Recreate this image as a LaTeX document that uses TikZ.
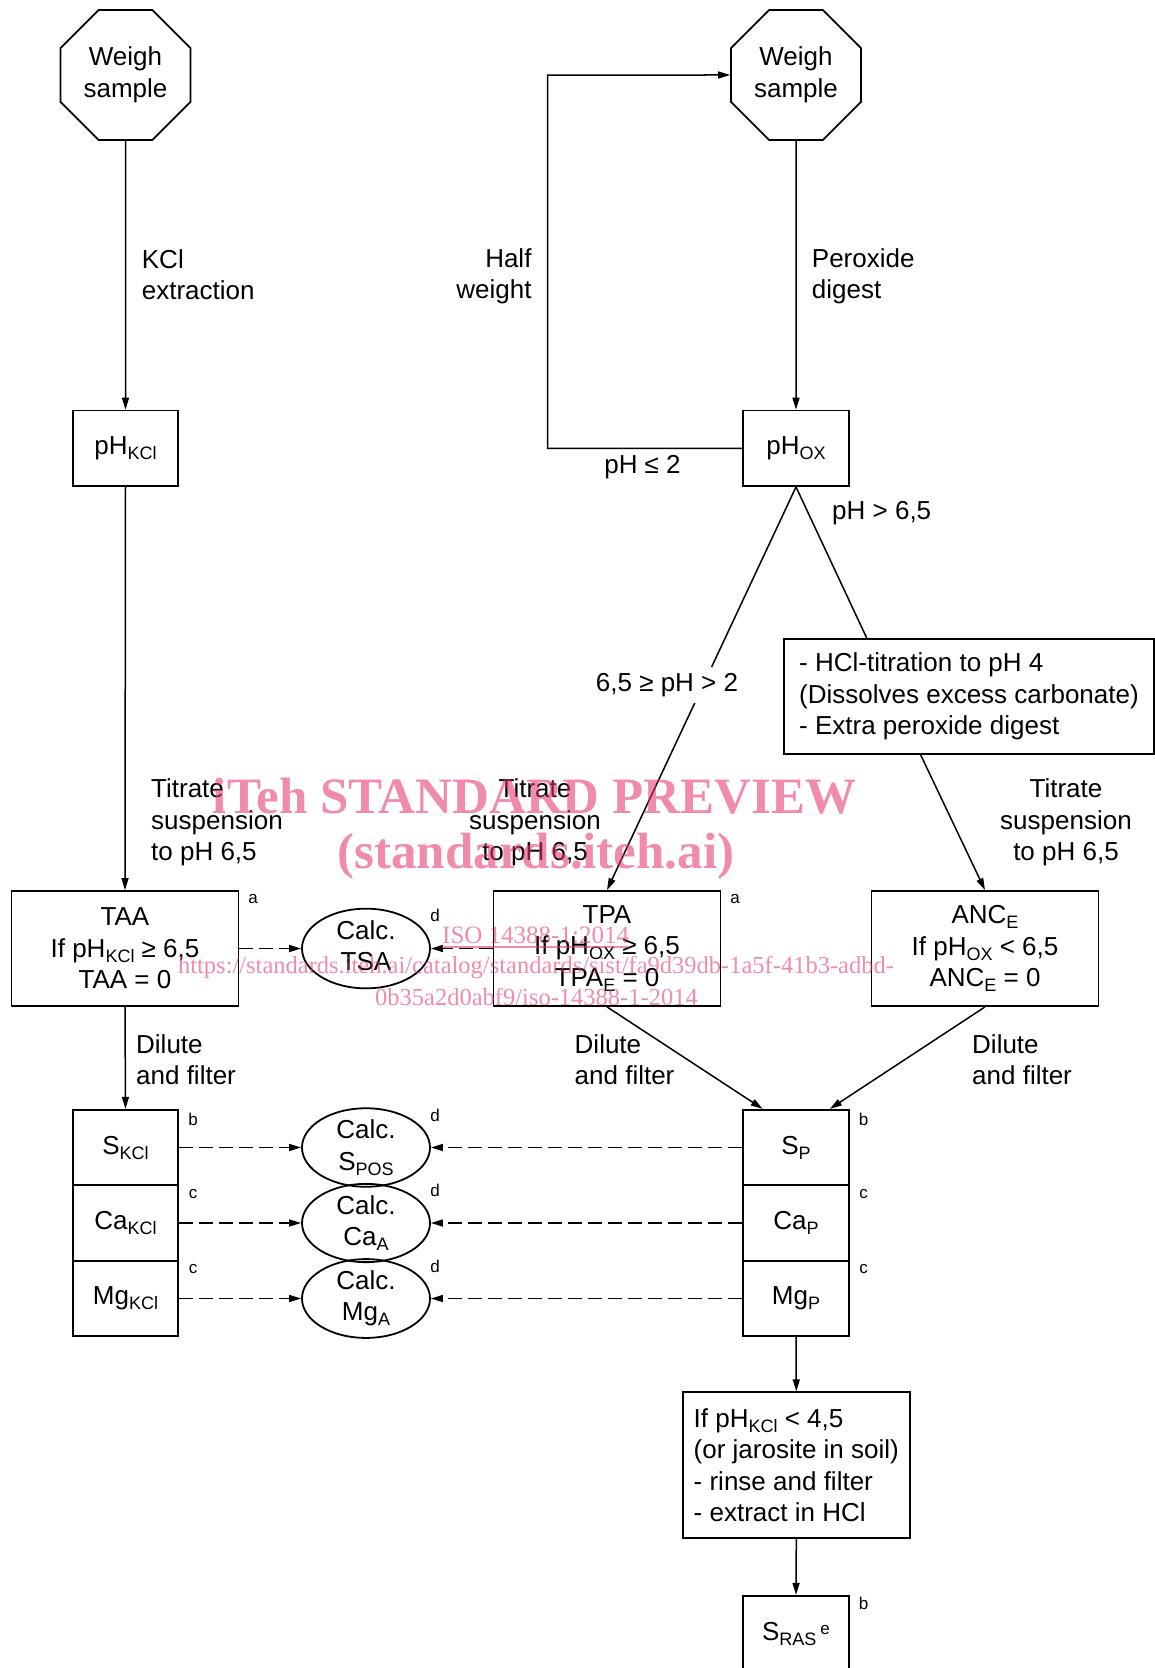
\documentclass[tikz,border=0pt]{standalone}
\usepackage{fontspec}
\setmainfont{Liberation Sans}
\newfontfamily\wmfont{Liberation Serif}
\usetikzlibrary{shapes.geometric,arrows.meta,calc}
\newcommand\sbs[1]{\raisebox{-5pt}{\fontsize{18}{18}\selectfont #1}}
\newcommand\mainfs{\fontsize{26}{31.5}\selectfont}
\newcommand\smallfs{\fontsize{17}{17}\selectfont}
\definecolor{wm}{RGB}{228,53,105}
\begin{document}
\begin{tikzpicture}[x=1pt,y=-1pt, font=\mainfs,
  box/.style={draw, line width=1.8pt, inner sep=0pt, align=center},
  sbox/.style={box, minimum width=105.7pt, minimum height=75.5pt},
  wbox/.style={box, minimum width=227pt, minimum height=115pt},
  oct/.style={draw, line width=1.8pt, regular polygon, regular polygon sides=8, minimum size=140.7pt, inner sep=0pt, align=center},
  ell/.style={draw, line width=1.8pt, ellipse, minimum width=128pt, minimum height=71pt, inner sep=0pt, align=center},
  conn/.style={line width=1.5pt, -{Triangle[length=12pt,width=7pt]}},
  plain/.style={line width=1.5pt},
  dconn/.style={conn, dash pattern=on 14pt off 6pt},
  lbl/.style={inner sep=0pt},
  fn/.style={inner sep=0pt, font=\smallfs},
  wmbig/.style={inner sep=0pt, text=wm, text opacity=0.57, font=\wmfont\bfseries\fontsize{51}{55}\selectfont},
  wmsmall/.style={inner sep=0pt, text=wm, text opacity=0.57, font=\wmfont\fontsize{25}{25}\selectfont},
  wmurl/.style={inner sep=0pt, text=wm, text opacity=0.57, font=\wmfont\fontsize{24.5}{25}\selectfont},
]
\useasboundingbox (0,0) rectangle (1155,1668);
\clip (0,0) rectangle (1155,1668);

% main nodes
\node[oct] (w1) at (125.5,75) {Weigh\\sample};
\node[oct] (w2) at (796,75) {Weigh\\sample};
\node[sbox] (phk) at (125.5,448.3) {pH\sbs{KCl}};
\node[sbox] (pho) at (796,448.3) {pH\sbs{OX}};
\node[box, minimum width=370pt, minimum height=115pt, align=left] (hcl) at (969,696.5)
  {- HCl-titration to pH 4\\(Dissolves excess carbonate)\\- Extra peroxide digest};
\node[wbox] (taa) at (125,948.5) {TAA\\If pH\sbs{KCl} ≥ 6,5\\TAA = 0};
\node[wbox] (tpa) at (607,948.5) {TPA\\If pH\sbs{OX} ≥ 6,5\\TPA\sbs{E} = 0};
\node[wbox] (anc) at (985,948.5) {ANC\sbs{E}\\If pH\sbs{OX} < 6,5\\ANC\sbs{E} = 0};
\node[ell] (tsa) at (366,948.5) {Calc.\\TSA\rule[-6pt]{0pt}{6pt}};

\node[sbox] (sk) at (125.5,1147.5) {S\sbs{KCl}};
\node[sbox] (ck) at (125.5,1223) {Ca\sbs{KCl}};
\node[sbox] (mk) at (125.5,1298.5) {Mg\sbs{KCl}};
\node[sbox] (sp) at (796,1147.5) {S\sbs{P}};
\node[sbox] (cp) at (796,1223) {Ca\sbs{P}};
\node[sbox] (mp) at (796,1298.5) {Mg\sbs{P}};
\node[ell] (es) at (366,1147.5) {Calc.\\S\sbs{POS}};
\node[ell] (ec) at (366,1223) {Calc.\\Ca\sbs{A}};
\node[ell] (em) at (366,1298.5) {Calc.\\Mg\sbs{A}};

\node[box, minimum width=227pt, minimum height=146pt, align=left] (ifb) at (796.3,1465.3)
  {If pH\sbs{KCl} < 4,5\\(or jarosite in soil)\\- rinse and filter\\- extract in HCl};
\node[sbox] (sras) at (796,1633.5) {S\sbs{RAS}\hspace{4pt}\raisebox{6pt}{\smallfs e}};

% connectors
\coordinate (lp) at (547.7,75);
\draw[conn] (w1.south) -- (phk.north);
\draw[conn] (w2.south) -- (pho.north);
\draw[conn] (pho.west) -| (lp) -- (w2.west);
\draw[conn] (phk.south) -- (taa.north);
\draw[conn] (pho.south) -- (tpa.north);
\draw[plain] (pho.south) -- ($(hcl.north west)!0.225!(hcl.north east)$);
\draw[conn] ($(hcl.south west)!0.37!(hcl.south east)$) -- (anc.north);
\draw[dconn] (taa.east) -- (tsa.west);
\draw[dconn] (tpa.west) -- (tsa.east);
\draw[conn] (taa.south) -- (sk.north);
\draw[conn] (tpa.south) -- ($(sp.north west)!0.19!(sp.north east)$);
\draw[conn] (anc.south) -- ($(sp.north west)!0.815!(sp.north east)$);
\draw[dconn] (sk.east) -- (es.west);
\draw[dconn] (ck.east) -- (ec.west);
\draw[dconn] (mk.east) -- (em.west);
\draw[dconn] (sp.west) -- (es.east);
\draw[dconn] (cp.west) -- (ec.east);
\draw[dconn] (mp.west) -- (em.east);
\draw[conn] (mp.south) -- (ifb.north);
\draw[conn] (ifb.south) -- (sras.north);

% labels
\node[lbl, anchor=north west, align=left] (l1) at (141.7,249) {KCl\\extraction};
\node[lbl, anchor=north east, align=right] (l2) at (531.7,248) {Half\\weight};
\node[lbl, anchor=north west, align=left] (l3) at (811.7,248) {Peroxide\\digest};
\node[lbl, anchor=base] (l4) at (642.5,473.3) {pH ≤ 2};
\node[lbl, anchor=base west] (l5) at (832,519) {pH > 6,5};
\node[lbl, fill=white, minimum height=36pt] (l6) at (667,685) {6,5 ≥ pH > 2};
\node[lbl, anchor=north west, align=left] (l7) at (151,778.6) {Titrate\\suspension\\to pH 6,5};
\node[lbl, anchor=north, align=center] (l8) at (535,778.6) {Titrate\\suspension\\to pH 6,5};
\node[lbl, anchor=north, align=center] (l9) at (1066,778.6) {Titrate\\suspension\\to pH 6,5};
\node[lbl, anchor=north west, align=left] (l10) at (136,1034) {Dilute\\and filter};
\node[lbl, anchor=north west, align=left] (l11) at (574.5,1034) {Dilute\\and filter};
\node[lbl, anchor=north west, align=left] (l12) at (972,1034) {Dilute\\and filter};

% footnote marks
\node[fn] (fa1) at (253,899) {a};
\node[fn] (fa2) at (735,899) {a};
\node[fn] (fd1) at (435,915) {d};
\node[fn] (fd2) at (435,1115) {d};
\node[fn] (fd3) at (435,1190) {d};
\node[fn] (fd4) at (435,1266) {d};
\node[fn] (fb1) at (193,1119) {b};
\node[fn] (fc1) at (193,1194) {c};
\node[fn] (fc2) at (193,1269) {c};
\node[fn] (fb2) at (863.5,1119) {b};
\node[fn] (fc3) at (863.5,1194) {c};
\node[fn] (fc4) at (863.5,1269) {c};
\node[fn] (fb3) at (863.5,1603) {b};

% watermark
\node[wmbig, anchor=base] (wm1) at (534.5,813) {iTeh STANDARD PREVIEW};
\node[wmbig, anchor=base] (wm2) at (536,868) {(standards.iteh.ai)};
\node[wmsmall, anchor=base west] (wm3) at (442,943) {ISO 14388-1:2014};
\draw[wm, opacity=0.57, line width=1.2pt] ([yshift=-4pt]wm3.base west) -- ([yshift=-4pt]wm3.base east);
\node[wmurl, anchor=base] (wm4) at (536,973) {https://standards.iteh.ai/catalog/standards/sist/fa9d39db-1a5f-41b3-adbd-};
\node[wmurl, anchor=base] (wm5) at (536.5,1005) {0b35a2d0abf9/iso-14388-1-2014};
\end{tikzpicture}
\end{document}
